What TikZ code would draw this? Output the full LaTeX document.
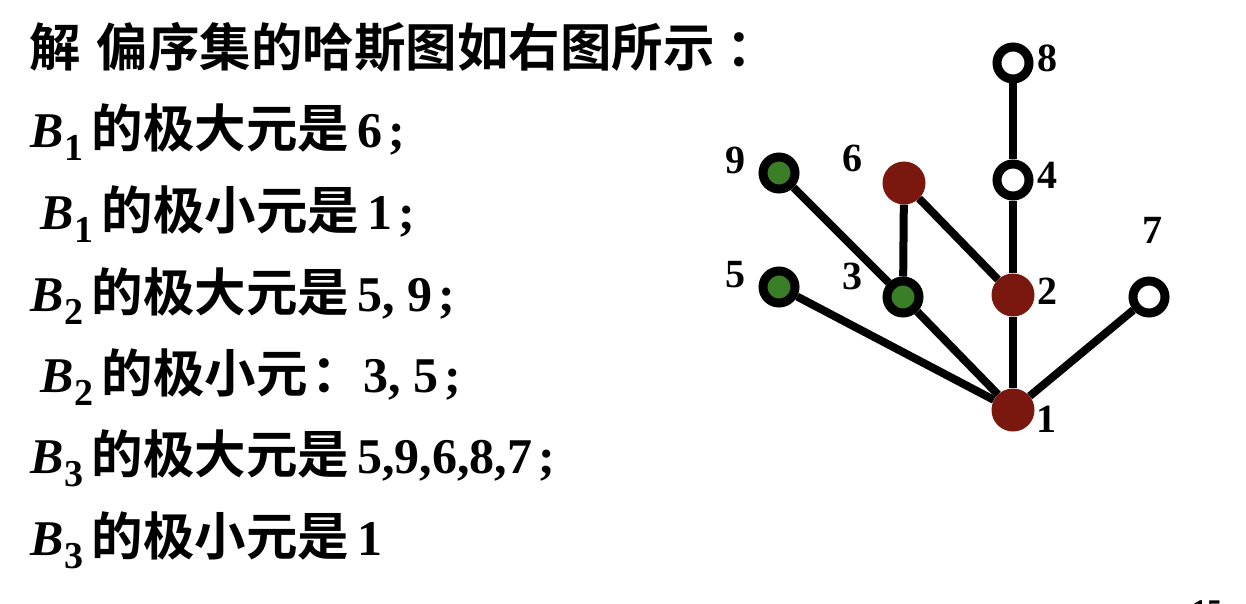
\documentclass[tikz,border=0pt]{standalone}
\usepackage{fontspec}
\setmainfont{Liberation Serif}[BoldFont={Liberation Serif Bold}, ItalicFont={Liberation Serif Italic}, BoldItalicFont={Liberation Serif Bold Italic}]
\newfontfamily\zh{Noto Sans CJK SC}[BoldFont={Noto Sans CJK SC Bold}]
\newfontfamily\tb{Liberation Serif Bold}
\newfontfamily\tbi{Liberation Serif Bold Italic}
\definecolor{nodegreen}{HTML}{3A7F27}
\definecolor{nodered}{HTML}{7A1810}
\newcommand\Bsb[1]{{\fontsize{50}{50}\selectfont\tbi B}\kern1pt\raisebox{-13pt}{\fontsize{38}{38}\selectfont\tb #1}}
\newcommand\zht[1]{{\fontsize{51.5}{51.5}\selectfont\zh\bfseries #1}}
\newcommand\numt[1]{{\fontsize{50}{50}\selectfont\tb #1}}
\newcommand\semi{\kern6pt;}
\tikzset{
  txt/.style={anchor=base west, inner sep=0pt},
  vtx/.style={circle, inner sep=0pt},
  hollow/.style={vtx, draw=black, line width=9pt, fill=white, minimum size=32pt},
  greenv/.style={vtx, draw=black, line width=9pt, fill=nodegreen, minimum size=32pt},
  redv/.style={vtx, fill=nodered, minimum size=43pt},
  edge/.style={line width=8pt, black},
  lab/.style={inner sep=0pt, font=\fontsize{40}{40}\selectfont\tb}
}
\begin{document}
\begin{tikzpicture}[x=1pt,y=-1pt]
\useasboundingbox (0,0) rectangle (1246,604);
% text lines
\node[txt] (l1) at (29,67) {\zht{解\hspace{16pt}偏序集的哈斯图如右图所示\hspace{12pt}：}};
\node[txt] (l2) at (30,148) {\Bsb{1}\hspace{8pt}\zht{的极大元是}\hspace{8pt}\numt{6\semi}};
\node[txt] (l3) at (40,229.5) {\Bsb{1}\hspace{8pt}\zht{的极小元是}\hspace{8pt}\numt{1\semi}};
\node[txt] (l4) at (30,311) {\Bsb{2}\hspace{8pt}\zht{的极大元是}\hspace{8pt}\numt{5, 9\semi}};
\node[txt] (l5) at (40,392) {\Bsb{2}\hspace{8pt}\zht{的极小元\hspace{4pt}：}\numt{3, 5\semi}};
\node[txt] (l6) at (30,473.5) {\Bsb{3}\hspace{8pt}\zht{的极大元是}\hspace{8pt}\numt{5,9,6,8,7\semi}};
\node[txt] (l7) at (30,555) {\Bsb{3}\hspace{8pt}\zht{的极小元是}\hspace{8pt}\numt{1}};
% vertices
\node[hollow] (n8) at (1013,63) {};
\node[hollow] (n4) at (1013,180) {};
\node[greenv] (n9) at (779,173) {};
\node[redv]   (n6) at (904,183) {};
\node[greenv] (n5) at (779,287) {};
\node[greenv] (n3) at (903,297) {};
\node[redv]   (n2) at (1013,295) {};
\node[hollow] (n7) at (1149,297) {};
\node[redv]   (n1) at (1013,410) {};
% edges
\draw[edge] (n8) -- (n4);
\draw[edge] (n4) -- (n2);
\draw[edge] (n9) -- (n3);
\draw[edge] (n6) -- (n3);
\draw[edge] (n6) -- (n2);
\draw[edge] (n5) -- (n1);
\draw[edge] (n3) -- (n1);
\draw[edge] (n2) -- (n1);
\draw[edge] (n7) -- (n1);
% labels
\node[lab] (t8) at (1047,58) {8};
\node[lab] (t4) at (1047,175) {4};
\node[lab] (t9) at (735,160) {9};
\node[lab] (t6) at (852,158) {6};
\node[lab] (t5) at (735,275) {5};
\node[lab] (t3) at (852,276) {3};
\node[lab] (t2) at (1047,291) {2};
\node[lab] (t7) at (1152,230) {7};
\node[lab] (t1) at (1046,419) {1};
\node[anchor=base west, inner sep=0pt, font=\fontsize{30}{30}\selectfont\tb] (pg) at (1192,620) {15};
\end{tikzpicture}
\end{document}
